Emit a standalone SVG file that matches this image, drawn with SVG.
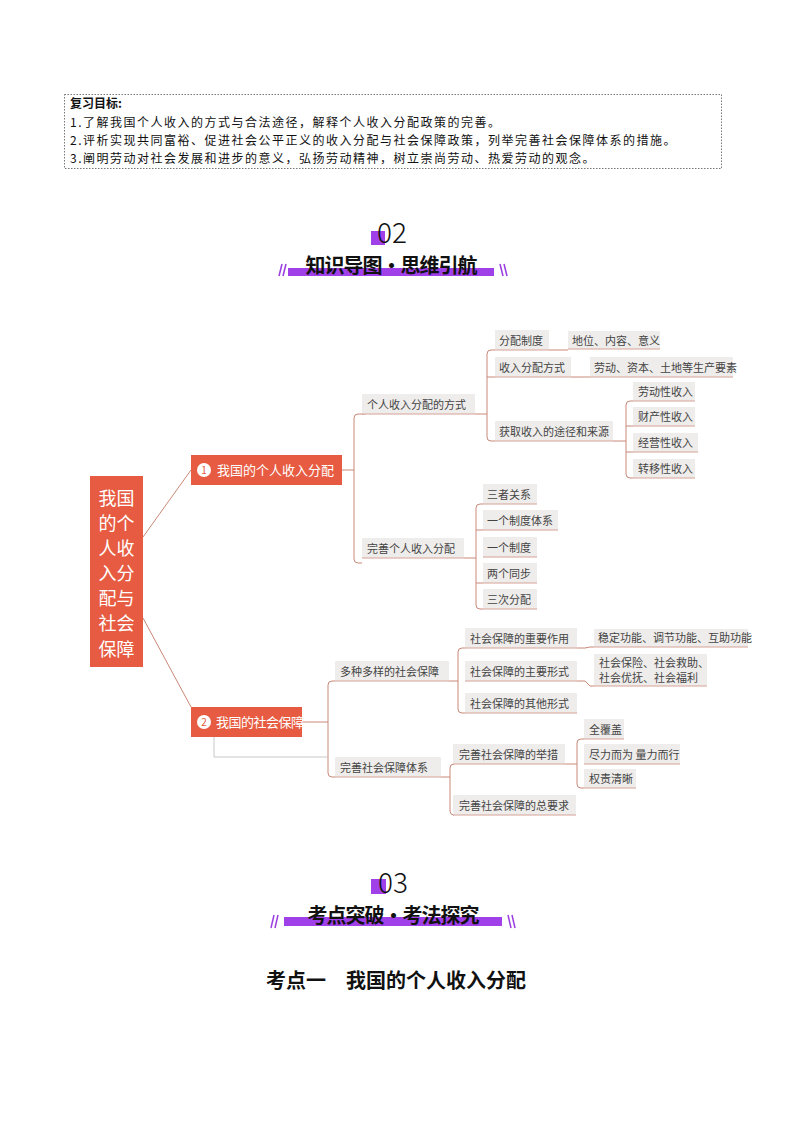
<svg xmlns="http://www.w3.org/2000/svg" width="794" height="1123" viewBox="0 0 794 1123">
<style>
text{font-family:"Noto Sans CJK SC","Noto Sans",sans-serif}
.obj{font-size:12px;letter-spacing:1.5px;fill:#111}
.b{fill:#efedeb}
.u{stroke:#d4a296;stroke-width:1;fill:none}
.c{stroke:#c98878;stroke-width:1;fill:none}
.t{font-size:11px;fill:#444}
.w{font-size:13px;fill:#fff}
.r{font-size:18px;fill:#fff;text-anchor:middle}
.h{font-size:20px;font-weight:bold;fill:#111;text-anchor:middle}
.num{font-size:28px;font-weight:300;fill:#111}
.sl{stroke:#9b3fe0;stroke-width:1.5}
</style>
<rect width="794" height="1123" fill="#fff"/>
<g id="objectives">
<rect x="64.5" y="94.5" width="657" height="74" fill="none" stroke="#777" stroke-dasharray="1.5,1.5"/>
<text class="obj" x="70" y="108" font-weight="bold" style="letter-spacing:0">复习目标:</text>
<text class="obj" x="70" y="127">1.了解我国个人收入的方式与合法途径，解释个人收入分配政策的完善。</text>
<text class="obj" x="70" y="145">2.评析实现共同富裕、促进社会公平正义的收入分配与社会保障政策，列举完善社会保障体系的措施。</text>
<text class="obj" x="70" y="163">3.阐明劳动对社会发展和进步的意义，弘扬劳动精神，树立崇尚劳动、热爱劳动的观念。</text>
</g>
<g id="header02">
<rect x="371" y="231" width="14" height="14" fill="#a040e8"/>
<text class="num" x="377" y="243">02</text>
<rect x="288" y="268" width="206" height="8" fill="#a040e8"/>
<text class="h" x="391" y="273" style="letter-spacing:-1px">知识导图·思维引航</text>
<line class="sl" x1="279" y1="276" x2="282" y2="264"/><line class="sl" x1="283" y1="276" x2="286" y2="264"/>
<line class="sl" x1="500" y1="264" x2="503" y2="276"/><line class="sl" x1="504" y1="264" x2="507" y2="276"/>
</g>
<g id="connectors">
<path class="c" d="M143,537 L191,470 M143,618 L191,707"/>
<path class="c" d="M342,470 H354 M365,414 H358 Q354,414 354,418 V559 Q354,563 358,563 H362"/>
<path class="c" d="M475,414 H487 M495,350 H491 Q487,350 487,354 V437 Q487,441 491,441 H495 M487,377 H495 M549,350 H568 M571,377 H590"/>
<path class="c" d="M613,441 H626 M633,401 H630 Q626,401 626,405 V474 Q626,478 630,478 H633 M626,426 H633 M626,452 H633"/>
<path class="c" d="M464,558 H476 M483,504 H480 Q476,504 476,508 V605 Q476,609 480,609 H483 M476,530 H483 M476,583 H483"/>
<path class="c" d="M302,722 H328 M335,681 H332 Q328,681 328,685 V773 Q328,777 332,777 H335"/>
<path stroke="#c8c8c8" fill="none" d="M214,722 V757 H328"/>
<path class="c" d="M449,681 H458 M465,648 H462 Q458,648 458,652 V709 Q458,713 462,713 H465 M577,648 H585 L590,647 H594 M577,681 H585 L590,686 H594"/>
<path class="c" d="M441,777 H450 M453,764 H454 Q450,764 450,768 V811 Q450,815 454,815 H453"/>
<path class="c" d="M565,764 H577 M584,739 H581 Q577,739 577,743 V784 Q577,788 581,788 H584"/>
</g>
<g id="root"><rect x="90" y="476" width="53" height="191" fill="#e65b41"/>
<text class="r" x="116.5" y="505">我国</text><text class="r" x="116.5" y="530">的个</text><text class="r" x="116.5" y="555">人收</text><text class="r" x="116.5" y="580">入分</text><text class="r" x="116.5" y="605">配与</text><text class="r" x="116.5" y="630">社会</text><text class="r" x="116.5" y="656">保障</text></g>
<g id="n1"><rect x="191" y="455" width="151" height="30" fill="#e65b41"/><circle cx="204" cy="470" r="7" fill="#fff"/><text x="204" y="474" font-size="10" fill="#e65b41" text-anchor="middle">1</text><text class="w" x="217" y="475">我国的个人收入分配</text></g>
<g id="n2"><rect x="191" y="707" width="111" height="30" fill="#e65b41"/><circle cx="204" cy="722" r="7" fill="#fff"/><text x="204" y="726" font-size="10" fill="#e65b41" text-anchor="middle">2</text><text class="w" x="216" y="727" style="letter-spacing:-0.5px">我国的社会保障</text></g>
<g id="a1"><rect class="b" x="362" y="394" width="113" height="20"/><path class="u" d="M362,414H475"/><text class="t" x="367" y="409">个人收入分配的方式</text></g>
<g id="a2"><rect class="b" x="362" y="538" width="102" height="20"/><path class="u" d="M362,558H464"/><text class="t" x="367" y="553">完善个人收入分配</text></g>
<g id="b1"><rect class="b" x="495" y="330" width="54" height="20"/><path class="u" d="M495,350H549"/><text class="t" x="499" y="345">分配制度</text></g>
<g id="b2"><rect class="b" x="495" y="357" width="76" height="20"/><path class="u" d="M495,377H571"/><text class="t" x="499" y="372">收入分配方式</text></g>
<g id="b3"><rect class="b" x="495" y="421" width="118" height="20"/><path class="u" d="M495,441H613"/><text class="t" x="499" y="436">获取收入的途径和来源</text></g>
<g id="c1"><rect class="b" x="568" y="331" width="92" height="18"/><path class="u" d="M568,349H660"/><text class="t" x="572" y="345">地位、内容、意义</text></g>
<g id="c2"><rect class="b" x="590" y="357" width="143" height="20"/><path class="u" d="M590,377H733"/><text class="t" x="594" y="372">劳动、资本、土地等生产要素</text></g>
<g id="d1"><rect class="b" x="633" y="382" width="62" height="19"/><path class="u" d="M633,401H695"/><text class="t" x="638" y="396">劳动性收入</text></g>
<g id="d2"><rect class="b" x="633" y="407" width="62" height="19"/><path class="u" d="M633,426H695"/><text class="t" x="638" y="421">财产性收入</text></g>
<g id="d3"><rect class="b" x="633" y="433" width="65" height="19"/><path class="u" d="M633,452H698"/><text class="t" x="638" y="447">经营性收入</text></g>
<g id="d4"><rect class="b" x="633" y="459" width="62" height="19"/><path class="u" d="M633,478H695"/><text class="t" x="638" y="473">转移性收入</text></g>
<g id="e1"><rect class="b" x="483" y="484" width="54" height="20"/><path class="u" d="M483,504H537"/><text class="t" x="487" y="499">三者关系</text></g>
<g id="e2"><rect class="b" x="483" y="510" width="75" height="20"/><path class="u" d="M483,530H558"/><text class="t" x="487" y="525">一个制度体系</text></g>
<g id="e3"><rect class="b" x="483" y="537" width="54" height="20"/><path class="u" d="M483,557H537"/><text class="t" x="487" y="552">一个制度</text></g>
<g id="e4"><rect class="b" x="483" y="563" width="54" height="20"/><path class="u" d="M483,583H537"/><text class="t" x="487" y="578">两个同步</text></g>
<g id="e5"><rect class="b" x="483" y="589" width="54" height="20"/><path class="u" d="M483,609H537"/><text class="t" x="487" y="604">三次分配</text></g>
<g id="f1"><rect class="b" x="335" y="661" width="114" height="20"/><path class="u" d="M335,681H449"/><text class="t" x="340" y="676">多种多样的社会保障</text></g>
<g id="f2"><rect class="b" x="335" y="757" width="106" height="20"/><path class="u" d="M335,777H441"/><text class="t" x="340" y="772">完善社会保障体系</text></g>
<g id="g1"><rect class="b" x="465" y="628" width="112" height="20"/><path class="u" d="M465,648H577"/><text class="t" x="470" y="643">社会保障的重要作用</text></g>
<g id="g2"><rect class="b" x="465" y="661" width="112" height="20"/><path class="u" d="M465,681H577"/><text class="t" x="470" y="676">社会保障的主要形式</text></g>
<g id="g3"><rect class="b" x="465" y="693" width="112" height="20"/><path class="u" d="M465,713H577"/><text class="t" x="470" y="708">社会保障的其他形式</text></g>
<g id="h1"><rect class="b" x="594" y="629" width="154" height="18"/><path class="u" d="M594,647H748"/><text class="t" x="598" y="642">稳定功能、调节功能、互助功能</text></g>
<g id="h2"><rect class="b" x="594" y="654" width="113" height="32"/><path class="u" d="M594,686H707"/><text class="t" x="599" y="667">社会保险、社会救助、</text><text class="t" x="599" y="682">社会优抚、社会福利</text></g>
<g id="i1"><rect class="b" x="453" y="744" width="112" height="20"/><path class="u" d="M453,764H565"/><text class="t" x="459" y="759">完善社会保障的举措</text></g>
<g id="i2"><rect class="b" x="453" y="795" width="123" height="20"/><path class="u" d="M453,815H576"/><text class="t" x="459" y="810">完善社会保障的总要求</text></g>
<g id="j1"><rect class="b" x="584" y="719" width="40" height="20"/><path class="u" d="M584,739H624"/><text class="t" x="589" y="734">全覆盖</text></g>
<g id="j2"><rect class="b" x="584" y="744" width="96" height="20"/><path class="u" d="M584,764H680"/><text class="t" x="589" y="759">尽力而为 量力而行</text></g>
<g id="j3"><rect class="b" x="584" y="769" width="52" height="19"/><path class="u" d="M584,788H636"/><text class="t" x="589" y="783">权责清晰</text></g>
<g id="header03">
<rect x="371" y="879" width="15" height="15" fill="#a040e8"/>
<text class="num" x="378" y="893">03</text>
<rect x="284" y="917" width="218" height="9" fill="#a040e8"/>
<text class="h" x="393" y="923" style="letter-spacing:-1px">考点突破·考法探究</text>
<line class="sl" x1="271" y1="928" x2="274" y2="915"/><line class="sl" x1="275" y1="928" x2="278" y2="915"/>
<line class="sl" x1="508" y1="915" x2="511" y2="928"/><line class="sl" x1="512" y1="915" x2="515" y2="928"/>
<text class="h" x="396" y="988" style="white-space:pre">考点一　我国的个人收入分配</text>
</g>
</svg>
